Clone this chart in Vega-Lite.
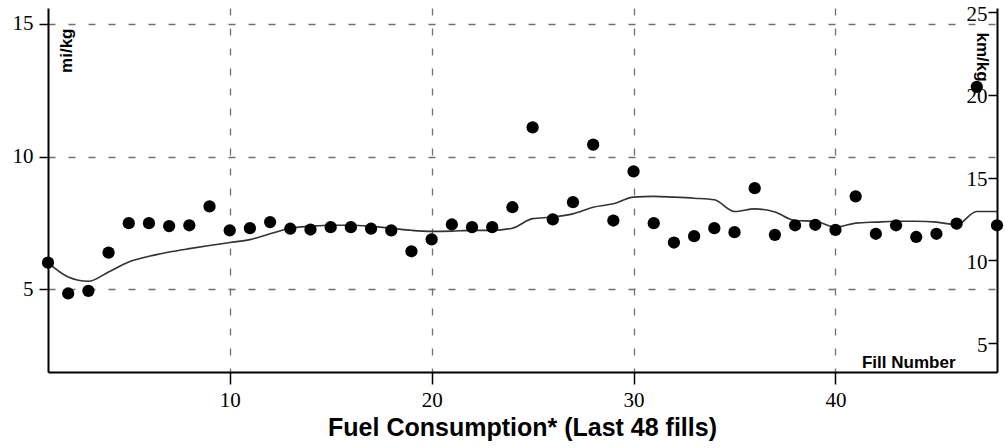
{
  "$schema": "https://vega.github.io/schema/vega-lite/v6.json",
  "width": 949,
  "height": 364,
  "autosize": {"type": "none"},
  "padding": {"left": 48, "top": 8, "right": 8, "bottom": 76},
  "background": "white",
  "config": {
    "view": {"stroke": null},
    "axis": {
      "domainColor": "black",
      "domainWidth": 2,
      "tickColor": "black",
      "tickWidth": 1.5,
      "labelFont": "Liberation Serif",
      "labelFontSize": 21,
      "labelColor": "black",
      "gridColor": "#707070",
      "gridDash": [7, 13],
      "gridWidth": 1.3,
      "gridOpacity": 1
    }
  },
  "title": {
    "text": "Fuel Consumption* (Last  48 fills)",
    "orient": "bottom",
    "anchor": "middle",
    "frame": "group",
    "font": "Liberation Sans",
    "fontSize": 25,
    "fontWeight": "bold",
    "color": "black",
    "offset": 6
  },
  "data": {
    "values": [
      {"fill": 1, "mpk": 6.0, "avg": 6.0},
      {"fill": 2, "mpk": 4.84, "avg": 5.46},
      {"fill": 3, "mpk": 4.94, "avg": 5.3},
      {"fill": 4, "mpk": 6.38, "avg": 5.65},
      {"fill": 5, "mpk": 7.49, "avg": 6.03},
      {"fill": 6, "mpk": 7.49, "avg": 6.24},
      {"fill": 7, "mpk": 7.38, "avg": 6.4},
      {"fill": 8, "mpk": 7.41, "avg": 6.53},
      {"fill": 9, "mpk": 8.12, "avg": 6.65},
      {"fill": 10, "mpk": 7.22, "avg": 6.76},
      {"fill": 11, "mpk": 7.3, "avg": 6.87},
      {"fill": 12, "mpk": 7.53, "avg": 7.09},
      {"fill": 13, "mpk": 7.28, "avg": 7.3},
      {"fill": 14, "mpk": 7.25, "avg": 7.37},
      {"fill": 15, "mpk": 7.34, "avg": 7.41},
      {"fill": 16, "mpk": 7.34, "avg": 7.41},
      {"fill": 17, "mpk": 7.28, "avg": 7.37},
      {"fill": 18, "mpk": 7.22, "avg": 7.3},
      {"fill": 19, "mpk": 6.43, "avg": 7.22},
      {"fill": 20, "mpk": 6.88, "avg": 7.18},
      {"fill": 21, "mpk": 7.44, "avg": 7.19},
      {"fill": 22, "mpk": 7.34, "avg": 7.22},
      {"fill": 23, "mpk": 7.34, "avg": 7.22},
      {"fill": 24, "mpk": 8.09, "avg": 7.3},
      {"fill": 25, "mpk": 11.1, "avg": 7.66},
      {"fill": 26, "mpk": 7.63, "avg": 7.72},
      {"fill": 27, "mpk": 8.28, "avg": 7.84},
      {"fill": 28, "mpk": 10.45, "avg": 8.09},
      {"fill": 29, "mpk": 7.59, "avg": 8.22},
      {"fill": 30, "mpk": 9.44, "avg": 8.47},
      {"fill": 31, "mpk": 7.49, "avg": 8.5},
      {"fill": 32, "mpk": 6.76, "avg": 8.47},
      {"fill": 33, "mpk": 7.0, "avg": 8.43},
      {"fill": 34, "mpk": 7.3, "avg": 8.37},
      {"fill": 35, "mpk": 7.15, "avg": 7.93},
      {"fill": 36, "mpk": 8.81, "avg": 8.03},
      {"fill": 37, "mpk": 7.05, "avg": 7.91},
      {"fill": 38, "mpk": 7.41, "avg": 7.59},
      {"fill": 39, "mpk": 7.43, "avg": 7.56},
      {"fill": 40, "mpk": 7.24, "avg": 7.34},
      {"fill": 41, "mpk": 8.5, "avg": 7.49},
      {"fill": 42, "mpk": 7.09, "avg": 7.53},
      {"fill": 43, "mpk": 7.41, "avg": 7.56},
      {"fill": 44, "mpk": 6.97, "avg": 7.56},
      {"fill": 45, "mpk": 7.09, "avg": 7.53},
      {"fill": 46, "mpk": 7.47, "avg": 7.43},
      {"fill": 47, "mpk": 12.63, "avg": 7.93},
      {"fill": 48, "mpk": 7.41, "avg": 7.93}
    ]
  },
  "layer": [
    {
      "encoding": {
        "x": {
          "field": "fill",
          "type": "quantitative",
          "scale": {"domain": [1, 48], "nice": false, "zero": false},
          "axis": {
            "values": [10, 20, 30, 40],
            "grid": true,
            "tickSize": 12,
            "labelPadding": 5,
            "title": "Fill Number",
            "titleFont": "Liberation Sans",
            "titleFontSize": 17,
            "titleFontWeight": "bold",
            "titleColor": "black",
            "titleX": 907,
            "titleY": -10,
            "titleAlign": "right",
            "titleBaseline": "middle"
          }
        }
      },
      "layer": [
        {
          "mark": {"type": "line", "color": "#333333", "strokeWidth": 1.6, "interpolate": "monotone"},
          "encoding": {
            "y": {
              "field": "avg",
              "type": "quantitative",
              "scale": {"domain": [1.88, 15.6], "nice": false, "zero": false},
              "axis": {
                "values": [5, 10, 15],
                "grid": true,
                "tickSize": 9,
                "labelPadding": 6,
                "title": "mi/kg",
                "titleFont": "Liberation Sans",
                "titleFontSize": 17,
                "titleFontWeight": "bold",
                "titleColor": "black",
                "titleAngle": 270,
                "titleAlign": "right",
                "titleBaseline": "middle",
                "titleX": 18,
                "titleY": 20
              }
            }
          }
        },
        {
          "mark": {"type": "circle", "color": "black", "opacity": 1, "size": 150},
          "encoding": {
            "y": {"field": "mpk", "type": "quantitative"}
          }
        }
      ]
    },
    {
      "mark": {"type": "point", "opacity": 0},
      "encoding": {
        "y": {
          "datum": 10,
          "type": "quantitative",
          "scale": {"domain": [3.25, 25.26], "nice": false, "zero": false},
          "axis": {
            "orient": "right",
            "values": [5, 10, 15, 20, 25],
            "grid": false,
            "tickSize": -9,
            "labelPadding": -1,
            "labelAlign": "right",
            "labelOffset": 2,
            "title": "km/kg",
            "titleFont": "Liberation Sans",
            "titleFontSize": 17,
            "titleFontWeight": "bold",
            "titleColor": "black",
            "titleAngle": 90,
            "titleAlign": "left",
            "titleBaseline": "middle",
            "titleX": -16,
            "titleY": 24
          }
        }
      }
    }
  ],
  "resolve": {"scale": {"y": "independent"}}
}
